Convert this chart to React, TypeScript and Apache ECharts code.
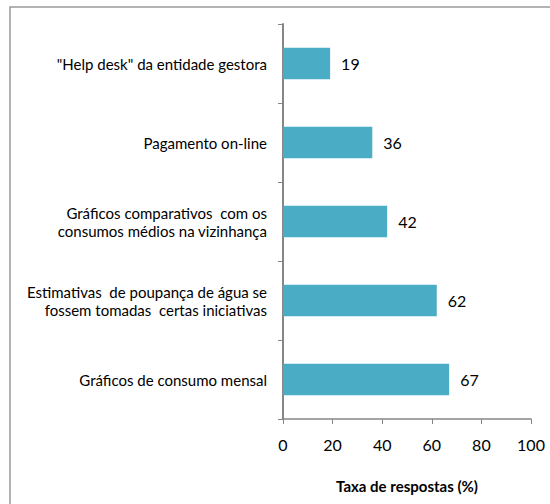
import React, { useEffect, useRef } from "react";
import * as echarts from "echarts";

const categories = [
  '"Help desk" da entidade gestora',
  "Pagamento on-line",
  "Gráficos comparativos  com os\nconsumos médios na vizinhança",
  "Estimativas  de poupança de água se\nfossem tomadas  certas iniciativas",
  "Gráficos de consumo mensal",
];
const values = [19, 36, 42, 62, 67];
const xTicks = [0, 20, 40, 60, 80, 100];
const xAxisTitle = "Taxa de respostas (%)";

const FONT = "Lato, 'Noto Sans', sans-serif";

export default function App() {
  const ref = useRef<HTMLDivElement>(null);
  useEffect(() => {
    if (!ref.current) return;
    const chart = echarts.init(ref.current, undefined, { renderer: "svg" });
    chart.setOption({
      animation: false,
      textStyle: { fontFamily: FONT },
      grid: { left: 283, top: 24, right: 19, bottom: 85, containLabel: false },
      graphic: [
        {
          type: "rect",
          shape: { x: 10, y: 7, width: 550, height: 510 },
          style: { fill: "none", stroke: "#9a9a9a", lineWidth: 1.5 },
          silent: true,
        },
      ],
      xAxis: {
        type: "value",
        min: xTicks[0],
        max: xTicks[xTicks.length - 1],
        interval: 20,
        splitLine: { show: false },
        axisLine: { show: true, lineStyle: { color: "#868686", width: 1.5 } },
        axisTick: { show: true, length: 5, lineStyle: { color: "#868686" } },
        axisLabel: { color: "#000", fontSize: 16, margin: 17, fontFamily: FONT },
        name: xAxisTitle,
        nameLocation: "middle",
        nameGap: 59,
        nameTextStyle: { color: "#000", fontSize: 15, fontWeight: "bold", fontFamily: FONT },
      },
      yAxis: {
        type: "category",
        inverse: true,
        data: categories,
        axisLine: { show: true, lineStyle: { color: "#868686", width: 2 } },
        axisTick: { show: true, length: 5, lineStyle: { color: "#868686" } },
        axisLabel: {
          color: "#000",
          fontSize: 15,
          margin: 16,
          lineHeight: 18,
          align: "right",
          fontFamily: FONT,
        },
      },
      series: [
        {
          type: "bar",
          data: values,
          barWidth: "40%",
          itemStyle: { color: "#4bacc6" },
          label: {
            show: true,
            position: "right",
            distance: 11,
            color: "#000",
            fontSize: 16,
            fontFamily: FONT,
          },
        },
      ],
    });
    return () => chart.dispose();
  }, []);
  return (
    <div
      ref={ref}
      style={{ position: "fixed", left: 0, top: 0, width: 550, height: 504, background: "#fff" }}
    />
  );
}
